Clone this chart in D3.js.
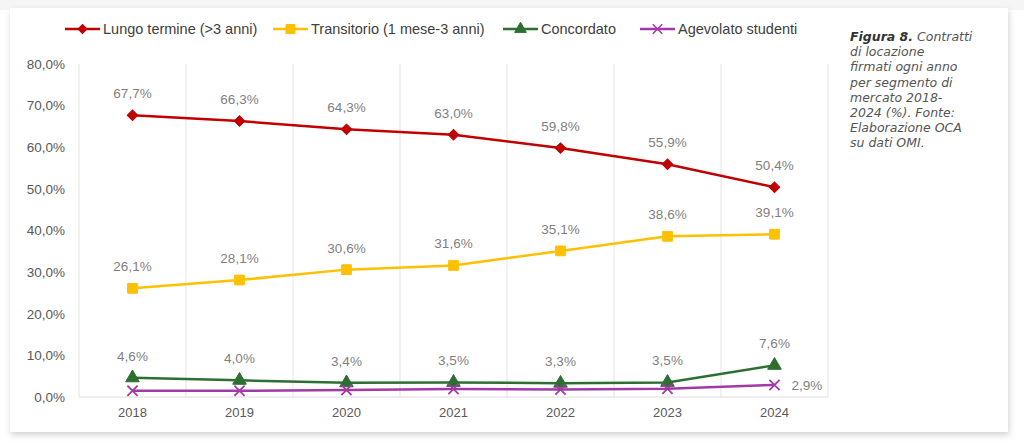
<!DOCTYPE html>
<html>
<head>
<meta charset="utf-8">
<script src="https://cdn.jsdelivr.net/npm/d3@7"></script>
<style>
  body { margin: 0; background: #ffffff; }
  svg { display: block; }
  .axis text { font-family: Arial, "Liberation Sans", sans-serif; }
</style>
</head>
<body>
<div id="chart"></div>
<script>
// data
var years = ["2018", "2019", "2020", "2021", "2022", "2023", "2024"];
var lungoTermine = [67.7, 66.3, 64.3, 63.0, 59.8, 55.9, 50.4];
var transitorio = [26.1, 28.1, 30.6, 31.6, 35.1, 38.6, 39.1];
var concordato = [4.6, 4.0, 3.4, 3.5, 3.3, 3.5, 7.6];
var agevolato = [1.5, 1.5, 1.7, 1.9, 1.8, 2.0, 2.9];
var yTicks = [0, 10, 20, 30, 40, 50, 60, 70, 80];
var seriesNames = ["Lungo termine (>3 anni)", "Transitorio (1 mese-3 anni)", "Concordato", "Agevolato studenti"];
var captionLines = ["di locazione", "firmati ogni anno", "per segmento di", "mercato 2018-", "2024 (%). Fonte:", "Elaborazione OCA", "su dati OMI."];

var series = [
  {name: seriesNames[0], values: lungoTermine, color: "#c00000", symbol: "diamond", labels: "all"},
  {name: seriesNames[1], values: transitorio, color: "#ffc000", symbol: "square", labels: "all"},
  {name: seriesNames[2], values: concordato, color: "#2d6e31", symbol: "triangle", labels: "all"},
  {name: seriesNames[3], values: agevolato, color: "#a23aa6", symbol: "cross", labels: "last"}
];

var W = 1024, H = 448;
var margin = {top: 64, right: 196, bottom: 51, left: 79},
    width = W - margin.left - margin.right,
    height = H - margin.top - margin.bottom;

var fmt = function(v) { return v.toFixed(1).replace(".", ",") + "%"; };

var svg = d3.select("#chart").append("svg")
    .attr("width", W)
    .attr("height", H);

// card with shadow
var defs = svg.append("defs");
var f = defs.append("filter").attr("id", "shadow").attr("x", "-5%").attr("y", "-5%").attr("width", "110%").attr("height", "115%");
f.append("feDropShadow").attr("dx", 1).attr("dy", 3).attr("stdDeviation", 3).attr("flood-color", "#000").attr("flood-opacity", 0.18);

svg.append("rect").attr("x", 0).attr("y", 0).attr("width", W).attr("height", 10).attr("fill", "#f5f5f5");
svg.append("rect")
    .attr("x", 10).attr("y", 8).attr("width", 998).attr("height", 424)
    .attr("fill", "#ffffff")
    .attr("filter", "url(#shadow)");

var g = svg.append("g")
    .attr("transform", "translate(" + margin.left + "," + margin.top + ")");

// scales
var x = d3.scaleBand().domain(years).range([0, width]);
var y = d3.scaleLinear().domain([0, 80]).range([height, 0]);

// vertical gridlines at category boundaries
var bounds = years.map(function(d) { return x(d); }).concat([width]);
g.selectAll(".vgrid")
    .data(bounds)
  .enter().append("line")
    .attr("x1", function(d) { return d; })
    .attr("x2", function(d) { return d; })
    .attr("y1", 0)
    .attr("y2", height)
    .attr("stroke", "#e3e3e3")
    .attr("stroke-width", 1);

// bottom axis line
g.append("line")
    .attr("x1", 0).attr("x2", width)
    .attr("y1", height).attr("y2", height)
    .attr("stroke", "#dcdcdc");

// y axis
var yAxis = g.append("g")
    .attr("class", "axis")
    .call(d3.axisLeft(y).tickValues(yTicks).tickSize(0).tickPadding(14)
      .tickFormat(function(d) { return d.toFixed(1).replace(".", ",") + "%"; }));
yAxis.select(".domain").remove();
yAxis.selectAll("text").attr("fill", "#595959").style("font-size", "13.5px");

// x axis
var xAxis = g.append("g")
    .attr("class", "axis")
    .attr("transform", "translate(0," + height + ")")
    .call(d3.axisBottom(x).tickSize(0).tickPadding(11));
xAxis.select(".domain").remove();
xAxis.selectAll("text").attr("fill", "#595959").style("font-size", "13px");

// lines
var line = d3.line()
    .x(function(d, i) { return x(years[i]) + x.bandwidth() / 2; })
    .y(function(d) { return y(d); });

function symbolPath(type, size) {
  if (type === "diamond" || type === "square") return d3.symbol().type(d3.symbolSquare).size(size)();
  if (type === "triangle") return d3.symbol().type(d3.symbolTriangle).size(size)();
  return d3.symbol().type(d3.symbolTimes).size(size)();
}

series.forEach(function(s) {
  g.append("path")
      .datum(s.values)
      .attr("fill", "none")
      .attr("stroke", s.color)
      .attr("stroke-width", 2.5)
      .attr("d", line);

  var sz = s.symbol === "square" ? 95 : (s.symbol === "cross" ? 70 : (s.symbol === "diamond" ? 55 : 80));
  g.selectAll(null)
      .data(s.values)
    .enter().append("path")
      .attr("transform", function(d, i) {
        return "translate(" + (x(years[i]) + x.bandwidth() / 2) + "," + y(d) + ")" +
          (s.symbol === "diamond" ? " rotate(45)" : "");
      })
      .attr("d", symbolPath(s.symbol, sz))
      .attr("fill", s.symbol === "cross" ? "none" : s.color)
      .attr("stroke", s.color)
      .attr("stroke-width", s.symbol === "cross" ? 1.8 : 1);

  // data labels
  if (s.labels === "all") {
    g.selectAll(null)
        .data(s.values)
      .enter().append("text")
        .attr("x", function(d, i) { return x(years[i]) + x.bandwidth() / 2; })
        .attr("y", function(d) { return y(d) - 17; })
        .attr("text-anchor", "middle")
        .attr("fill", "#7f7f7f")
        .style("font-family", "Arial, 'Liberation Sans', sans-serif")
        .style("font-size", "13.5px")
        .text(fmt);
  } else {
    var li = s.values.length - 1;
    g.append("text")
        .attr("x", x(years[li]) + x.bandwidth() / 2 + 17)
        .attr("y", y(s.values[li]) + 5)
        .attr("fill", "#7f7f7f")
        .style("font-family", "Arial, 'Liberation Sans', sans-serif")
        .style("font-size", "13.5px")
        .text(fmt(s.values[li]));
  }
});

// legend
var legendX = [65, 273, 503, 640];
var legend = svg.append("g").attr("transform", "translate(0,29)");
series.forEach(function(s, i) {
  var lg = legend.append("g").attr("transform", "translate(" + legendX[i] + ",0)");
  lg.append("line").attr("x1", 0).attr("x2", 35).attr("y1", 0).attr("y2", 0)
      .attr("stroke", s.color).attr("stroke-width", 2.5);
  lg.append("path")
      .attr("transform", "translate(17.5,0)" + (s.symbol === "diamond" ? " rotate(45)" : ""))
      .attr("d", symbolPath(s.symbol, s.symbol === "square" ? 80 : (s.symbol === "diamond" ? 40 : 60)))
      .attr("fill", s.symbol === "cross" ? "none" : s.color)
      .attr("stroke", s.color)
      .attr("stroke-width", s.symbol === "cross" ? 1.6 : 1);
  lg.append("text")
      .attr("x", 38).attr("y", 5)
      .attr("fill", "#404040")
      .style("font-family", "'Liberation Sans', Arial, sans-serif")
      .style("font-size", "14.5px")
      .text(s.name);
});

// caption
var capX = 850, capY = 41, capStep = 15.2;
var cap = svg.append("text")
    .attr("x", capX).attr("y", capY)
    .attr("fill", "#555555")
    .style("font-family", "'DejaVu Sans', sans-serif")
    .style("font-style", "italic")
    .style("font-size", "12.5px");
var first = cap.append("tspan").attr("x", capX).attr("y", capY);
first.append("tspan").style("font-weight", "bold").attr("fill", "#333333").text("Figura 8.");
first.append("tspan").text(" Contratti");
captionLines.forEach(function(t, i) {
  cap.append("tspan").attr("x", capX).attr("y", capY + (i + 1) * capStep).text(t);
});
</script>
</body>
</html>
